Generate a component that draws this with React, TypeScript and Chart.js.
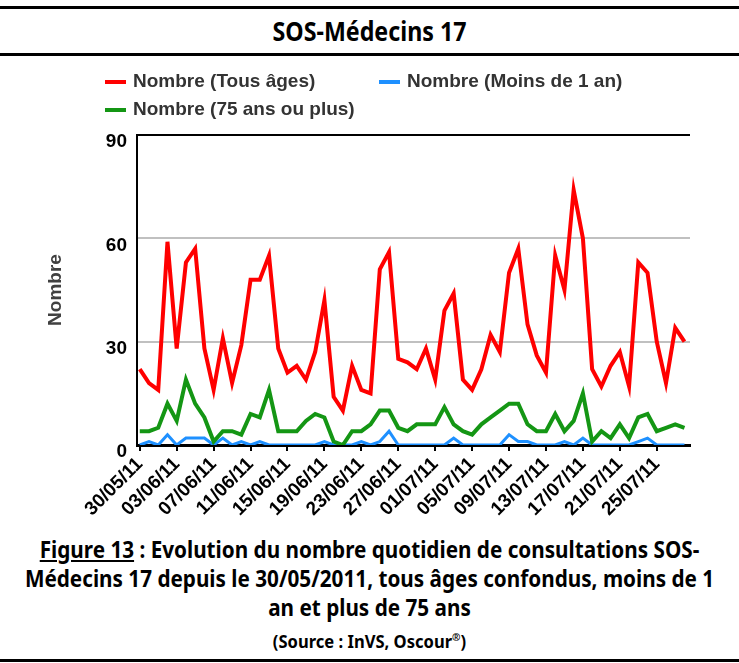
import React, { useEffect, useRef } from 'react';
import { Chart, registerables } from 'chart.js';

Chart.register(...registerables);

// ---------- data ----------
const dates = [
  '30/05/11', '31/05/11',
  '01/06/11', '02/06/11', '03/06/11', '04/06/11', '05/06/11', '06/06/11', '07/06/11', '08/06/11', '09/06/11', '10/06/11',
  '11/06/11', '12/06/11', '13/06/11', '14/06/11', '15/06/11', '16/06/11', '17/06/11', '18/06/11', '19/06/11', '20/06/11',
  '21/06/11', '22/06/11', '23/06/11', '24/06/11', '25/06/11', '26/06/11', '27/06/11', '28/06/11', '29/06/11', '30/06/11',
  '01/07/11', '02/07/11', '03/07/11', '04/07/11', '05/07/11', '06/07/11', '07/07/11', '08/07/11', '09/07/11', '10/07/11',
  '11/07/11', '12/07/11', '13/07/11', '14/07/11', '15/07/11', '16/07/11', '17/07/11', '18/07/11', '19/07/11', '20/07/11',
  '21/07/11', '22/07/11', '23/07/11', '24/07/11', '25/07/11', '26/07/11', '27/07/11', '28/07/11',
];

const tousAges = [
  22, 18, 16, 59, 28, 53, 57, 28, 16, 31,
  18, 29, 48, 48, 55, 28, 21, 23, 19, 27,
  42, 14, 10, 23, 16, 15, 51, 56, 25, 24,
  22, 28, 19, 39, 44, 19, 16, 22, 32, 27,
  50, 57, 35, 26, 21, 55, 45, 74, 60, 22,
  17, 23, 27, 17, 53, 50, 30, 18, 34, 30,
];

const moinsDe1An = [
  0, 1, 0, 3, 0, 2, 2, 2, 0, 2,
  0, 1, 0, 1, 0, 0, 0, 0, 0, 0,
  1, 0, 0, 0, 1, 0, 1, 4, 0, 0,
  0, 0, 0, 0, 2, 0, 0, 0, 0, 0,
  3, 1, 1, 0, 0, 0, 1, 0, 2, 0,
  0, 0, 0, 0, 1, 2, 0, 0, 0, 0,
];

const plus75Ans = [
  4, 4, 5, 12, 7, 19, 12, 8, 1, 4,
  4, 3, 9, 8, 16, 4, 4, 4, 7, 9,
  8, 1, 0, 4, 4, 6, 10, 10, 5, 4,
  6, 6, 6, 11, 6, 4, 3, 6, 8, 10,
  12, 12, 6, 4, 4, 9, 4, 7, 15, 1,
  4, 2, 6, 2, 8, 9, 4, 5, 6, 5,
];

const yTicks = [0, 30, 60, 90];
const seriesLabels = ['Nombre (Tous âges)', 'Nombre (Moins de 1 an)', 'Nombre (75 ans ou plus)'];
const seriesColors = ['#ff0000', '#1e90ff', '#149614'];

const TICK_FONT = '"Liberation Sans", Arial, Helvetica, sans-serif';
const COND_FONT = '"Noto Sans", "Open Sans", sans-serif';

// custom legend (two rows, left aligned as in the original)
const legendPlugin = {
  id: 'sosLegend',
  afterDraw(chart: any) {
    const ctx = chart.ctx;
    const slots = [
      { ds: 0, x: 105, y: 24 },
      { ds: 1, x: 379, y: 24 },
      { ds: 2, x: 105, y: 52 },
    ];
    ctx.save();
    ctx.font = 'bold 19px ' + TICK_FONT;
    ctx.textBaseline = 'middle';
    ctx.textAlign = 'left';
    slots.forEach((s) => {
      const ds = chart.data.datasets[s.ds];
      ctx.fillStyle = ds.borderColor;
      ctx.fillRect(s.x, s.y - 2, 21, 4);
      ctx.fillStyle = '#333333';
      ctx.fillText(ds.label, s.x + 28, s.y);
    });
    ctx.restore();
  },
};

function SosChart() {
  const ref = useRef<HTMLCanvasElement | null>(null);
  useEffect(() => {
    if (!ref.current) return;
    const toXY = (arr: number[]) => arr.map((v, i) => ({ x: i, y: v }));
    const chart = new Chart(ref.current, {
      type: 'line',
      data: {
        datasets: [
          { label: seriesLabels[0], data: toXY(tousAges), borderColor: seriesColors[0], backgroundColor: seriesColors[0], borderWidth: 4, order: 1 },
          { label: seriesLabels[1], data: toXY(moinsDe1An), borderColor: seriesColors[1], backgroundColor: seriesColors[1], borderWidth: 3, order: 3 },
          { label: seriesLabels[2], data: toXY(plus75Ans), borderColor: seriesColors[2], backgroundColor: seriesColors[2], borderWidth: 4, order: 2 },
        ],
      },
      options: {
        animation: false,
        responsive: false,
        devicePixelRatio: 1,
        layout: { padding: { top: 77, left: 0, right: 49, bottom: 0 } },
        elements: { point: { radius: 0 }, line: { tension: 0, borderJoinStyle: 'miter' } },
        plugins: { legend: { display: false }, tooltip: { enabled: false }, title: { display: false } },
        scales: {
          x: {
            type: 'linear',
            min: -0.3,
            max: 59.6,
            afterFit: (s: any) => { s.height = 85; },
            afterBuildTicks: (s: any) => {
              s.ticks = dates.map((_, i) => i).filter((i) => i % 4 === 0).map((i) => ({ value: i }));
            },
            ticks: {
              autoSkip: false,
              maxRotation: 45,
              minRotation: 45,
              padding: 2,
              color: '#000',
              font: { family: TICK_FONT, size: 19, weight: 'bold' },
              callback: (v: any) => dates[v] ?? '',
            },
            grid: { display: true, drawOnChartArea: false, drawTicks: true, tickLength: 6, color: '#000', lineWidth: 2 },
            border: { display: true, color: '#000', width: 3 },
          },
          y: {
            min: 0,
            max: 90,
            afterFit: (s: any) => { s.width = 137; },
            afterBuildTicks: (s: any) => { s.ticks = yTicks.map((v) => ({ value: v })); },
            ticks: {
              padding: 10,
              labelOffset: 7,
              color: '#000',
              font: { family: TICK_FONT, size: 19, weight: 'bold' },
            },
            grid: {
              drawTicks: false,
              lineWidth: 2,
              color: (c: any) => (c.tick && (c.tick.value === 90 || c.tick.value === 0) ? '#000' : '#c0c0c0'),
            },
            border: { display: true, color: '#000', width: 2 },
            title: {
              display: true,
              text: 'Nombre',
              color: '#404040',
              font: { family: TICK_FONT, size: 19, weight: 'bold' },
              padding: { top: 44, bottom: 0 },
            },
          },
        },
      } as any,
      plugins: [legendPlugin],
    });
    return () => chart.destroy();
  }, []);
  return <canvas ref={ref} width={739} height={472} style={{ display: 'block', width: 739, height: 472 }} />;
}

// a centred text line narrowed horizontally to imitate the condensed face of the original
function NarrowLine({ k, size, lh, children }: { k: number; size: number; lh: number; children: React.ReactNode }) {
  return (
    <div
      style={{
        position: 'relative', left: -300, width: 1339, textAlign: 'center', whiteSpace: 'nowrap',
        fontSize: size, lineHeight: lh + 'px', transform: `scaleX(${k})`, transformOrigin: '50% 50%',
      }}
    >
      {children}
    </div>
  );
}

export default function App() {
  const line = (top: number) => (
    <div style={{ position: 'absolute', left: 0, top, width: 739, height: 3, background: '#000' }} />
  );
  const cond: React.CSSProperties = { fontFamily: COND_FONT, fontWeight: 'bold', color: '#000' };
  return (
    <div style={{ position: 'absolute', left: 0, top: 0, width: 739, height: 663, background: '#fff', overflow: 'hidden' }}>
      {line(6)}
      <div style={{ ...cond, position: 'absolute', left: 0, top: 9, width: 739, height: 44 }}>
        <NarrowLine k={0.86} size={27} lh={44}>SOS-Médecins 17</NarrowLine>
      </div>
      {line(53)}
      <div style={{ position: 'absolute', left: 0, top: 58 }}>
        <SosChart />
      </div>
      <div style={{ ...cond, position: 'absolute', left: 0, top: 535, width: 739 }}>
        <NarrowLine k={0.9} size={23} lh={29}>
          <span style={{ textDecoration: 'underline' }}>Figure 13</span> : Evolution du nombre quotidien de consultations SOS-
        </NarrowLine>
        <NarrowLine k={0.9} size={23} lh={29}>Médecins 17 depuis le 30/05/2011, tous âges confondus, moins de 1</NarrowLine>
        <NarrowLine k={0.9} size={23} lh={29}>an et plus de 75 ans</NarrowLine>
        <NarrowLine k={0.92} size={18} lh={29}>
          (Source : InVS, Oscour<sup style={{ fontSize: 11 }}>®</sup>)
        </NarrowLine>
      </div>
      {line(659)}
    </div>
  );
}
